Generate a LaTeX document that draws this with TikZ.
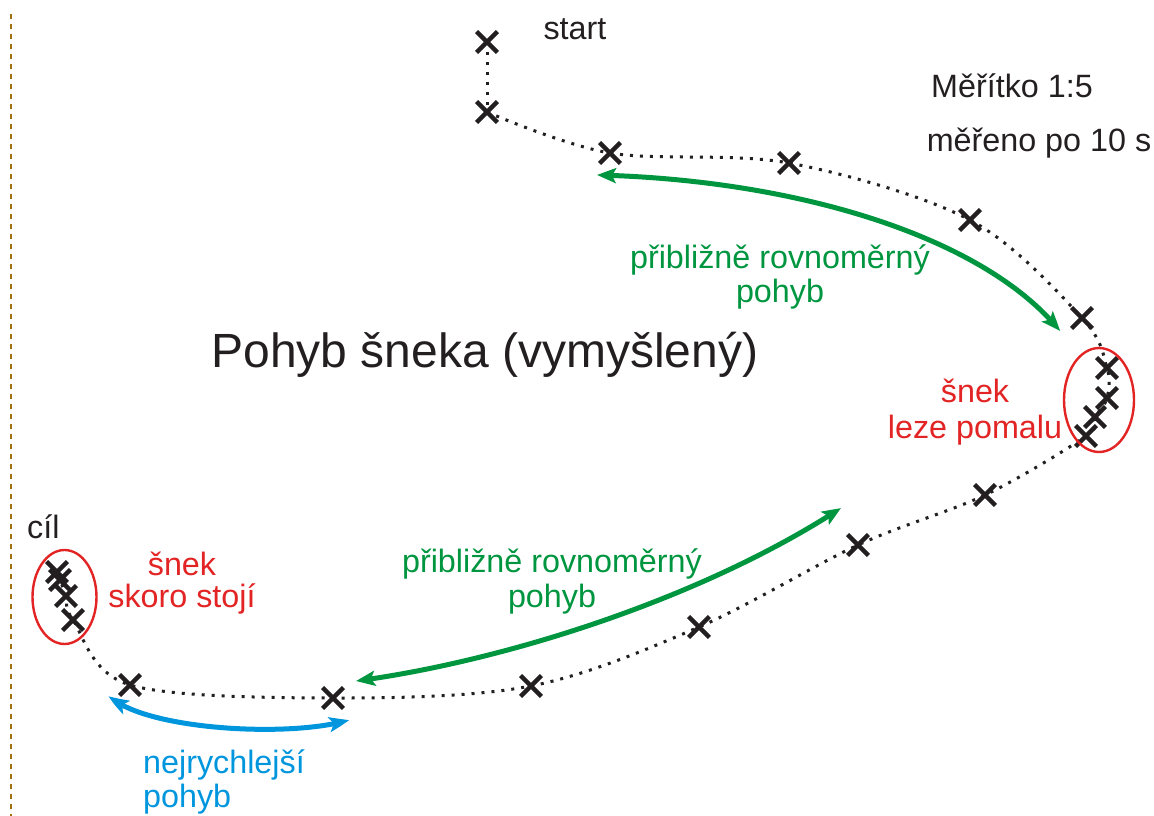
\documentclass[tikz,border=0pt]{standalone}
\usepackage{fontspec}
\setmainfont{Liberation Sans}
\usetikzlibrary{shapes.misc,shapes.geometric,arrows.meta,bending}
\definecolor{tgreen}{RGB}{0,150,64}
\definecolor{tblue}{RGB}{0,150,222}
\definecolor{tred}{RGB}{226,36,36}
\definecolor{tbrown}{RGB}{160,112,16}
\definecolor{tink}{RGB}{35,31,32}
\begin{document}
\begin{tikzpicture}[x=1pt,y=-1pt,
  mk/.style={cross out, draw=tink, line width=4.3pt, minimum size=16.5pt, inner sep=0pt},
  lbl/.style={font=\fontsize{32.3}{37}\selectfont, anchor=base, inner sep=0pt, text=tink},
  trail/.style={draw=tink, line width=3pt, dash pattern=on 3pt off 7pt},
  twoway/.style={line width=5pt, {Stealth[length=19pt,width=15pt,inset=4pt,bend]}-{Stealth[length=19pt,width=15pt,inset=4pt,bend]}},
  ring/.style={draw=tred, line width=2.4pt, ellipse, inner sep=0pt}
]
\useasboundingbox (0,0) rectangle (1154,816);

% left border dashed line
\coordinate (bt) at (11,14);
\coordinate (bb) at (11,816);
\draw[tbrown, line width=2pt, dash pattern=on 5pt off 5pt] (bt) -- (bb);

% measured positions
\node[mk] (m1) at (487,42) {};
\node[mk] (m2) at (487,112) {};
\node[mk] (m3) at (610,153) {};
\node[mk] (m4) at (789,163) {};
\node[mk] (m5) at (970,220) {};
\node[mk] (m6) at (1082,318) {};
\node[mk] (m7) at (1107,368) {};
\node[mk] (m8) at (1107,398) {};
\node[mk] (m9) at (1095,417) {};
\node[mk] (m10) at (1086,436) {};
\node[mk] (m11) at (985,495) {};
\node[mk] (m12) at (858,545) {};
\node[mk] (m13) at (699,627) {};
\node[mk] (m14) at (531,686) {};
\node[mk] (m15) at (333,698) {};
\node[mk] (m16) at (130,685) {};
\node[mk] (m17) at (73,620) {};
\node[mk] (m18) at (66,596) {};
\node[mk] (m19) at (60,580) {};
\node[mk] (m20) at (57,572) {};

% trail
\draw[trail] (m1.center) -- (m2.center);
\draw[trail] plot[smooth, tension=0.55] coordinates {(m2.center) (m3.center) (m4.center) (m5.center) (m6.center) (m7.center) (m8.center) (m9.center) (m10.center) (m11.center) (m12.center) (m13.center) (m14.center) (m15.center) (m16.center) (m17.center) (m18.center) (m19.center) (m20.center)};

% ellipses
\node[ring, minimum width=70pt, minimum height=104pt] (e1) at (1099,400) {};
\node[ring, minimum width=64pt, minimum height=94pt] (e2) at (64.5,597) {};

% arrows
\coordinate (ga1) at (597,175);
\coordinate (ga2) at (1060,331);
\draw[twoway, tgreen] (ga1) .. controls (800,180) and (985,238) .. (ga2);
\coordinate (gb1) at (356,681);
\coordinate (gb2) at (841,508);
\draw[twoway, tgreen] (gb1) .. controls (500,662) and (700,600) .. (gb2);
\coordinate (ba1) at (109,696);
\coordinate (ba2) at (349,720);
\draw[twoway, tblue] (ba1) .. controls (145,730) and (290,738) .. (ba2);

% texts
\node[lbl] (tstart) at (575,40) {start};
\node[lbl] (tscale) at (1012,97) {Měřítko 1:5};
\node[lbl] (tmeas) at (1039,151) {měřeno po 10 s};
\node[lbl, font=\fontsize{48}{55}\selectfont] (ttitle) at (485,367) {Pohyb šneka (vymyšlený)};
\node[lbl, text=tgreen] (tg1a) at (780,268) {přibližně rovnoměrný};
\node[lbl, text=tgreen] (tg1b) at (780,302) {pohyb};
\node[lbl, text=tgreen] (tg2a) at (552,572) {přibližně rovnoměrný};
\node[lbl, text=tgreen] (tg2b) at (552,607) {pohyb};
\node[lbl, text=tred] (tr1a) at (975,402) {šnek};
\node[lbl, text=tred] (tr1b) at (975,438) {leze pomalu};
\node[lbl, text=tred] (tr2a) at (182,575) {šnek};
\node[lbl, text=tred] (tr2b) at (182,607) {skoro stojí};
\node[lbl, anchor=base west] (tcil) at (27,538) {cíl};
\node[lbl, text=tblue, anchor=base west] (tb1) at (143,773) {nejrychlejší};
\node[lbl, text=tblue, anchor=base west] (tb2) at (143,807) {pohyb};
\end{tikzpicture}
\end{document}
